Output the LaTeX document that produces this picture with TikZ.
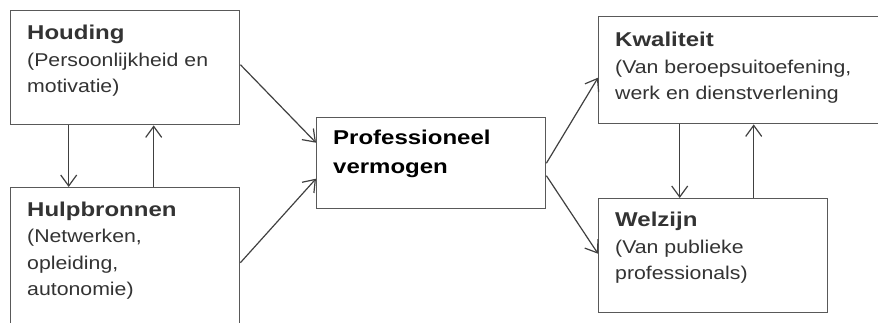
\documentclass[tikz,border=0pt]{standalone}
\usepackage{fontspec}
\setmainfont{Liberation Sans}
\newfontfamily\boxfont{Liberation Sans}[FakeStretch=1.15]
\newfontfamily\headfont{Liberation Sans}[FakeStretch=1.2]
\usepackage{tikz}
\usetikzlibrary{arrows.meta, positioning, calc}

\newcommand{\boxhead}[1]{{\headfont\bfseries\fontsize{20}{26.5}\selectfont #1}}

\begin{document}
\begin{tikzpicture}[
  x=1pt, y=-1pt,
  >={Straight Barb[length=11pt,width=16pt]},
  blok/.style={rectangle, draw=black!65, line width=1.4pt, fill=white,
        anchor=north west, inner sep=0pt},
  blocktxt/.style={anchor=north west, inner sep=0pt, align=left,
        text=black!80, font=\boxfont\fontsize{18.5}{26.5}\selectfont},
  headtxt/.style={blocktxt, text=black,
        font=\headfont\bfseries\fontsize{20}{29}\selectfont},
  flow/.style={->, black!75, line width=1.2pt},
]
\clip (0,0) rectangle (878,323);

% --- left column: houding and hulpbronnen ---
\node[blok, minimum width=229pt, minimum height=114pt] (houding) at (10,10) {};
\node[blok, minimum width=229pt, minimum height=150pt] (hulp) at (10,187) {};

% --- centre ---
\node[blok, minimum width=229pt, minimum height=91pt] (prof) at (316,117) {};

% --- right column: kwaliteit and welzijn ---
\node[blok, minimum width=292pt, minimum height=107pt] (kwal) at (598,16) {};
\node[blok, minimum width=229pt, minimum height=114pt] (welzijn) at (598,198) {};

% --- texts ---
\node[blocktxt, below right=15pt and 17pt of houding.north west] (houdingtxt)
  {\boxhead{Houding}\\ (Persoonlijkheid en\\ motivatie)};
\node[blocktxt, below right=14.5pt and 17pt of hulp.north west] (hulptxt)
  {\boxhead{Hulpbronnen}\\ (Netwerken,\\ opleiding,\\ autonomie)};
\node[headtxt, below right=13pt and 17pt of prof.north west] (proftxt)
  {Professioneel\\ vermogen};
\node[blocktxt, below right=16pt and 17pt of kwal.north west] (kwaltxt)
  {\boxhead{Kwaliteit}\\ (Van beroepsuitoefening,\\ werk en dienstverlening};
\node[blocktxt, below right=14pt and 17pt of welzijn.north west] (welzijntxt)
  {\boxhead{Welzijn}\\ (Van publieke\\ professionals)};

% --- arrows into professioneel vermogen ---
\draw[flow] ([yshift=3pt]houding.east) -- ([yshift=20.5pt]prof.west);
\draw[flow] (hulp.east) -- ([yshift=-15.5pt]prof.west);

% --- arrows out of professioneel vermogen ---
\draw[flow] (prof.east) -- ([yshift=-7.5pt]kwal.west);
\draw[flow] ([yshift=-12.5pt]prof.east) -- ([yshift=2pt]welzijn.west);

% --- two-way links between the boxes in each column ---
\draw[flow] ([xshift=-56.5pt]houding.south) -- ([xshift=-56.5pt]hulp.north);
\draw[flow] ([xshift=28.5pt]hulp.north) -- ([xshift=28.5pt]houding.south);
\draw[flow] ([xshift=-33.5pt]welzijn.north |- kwal.south) -- ([xshift=-33.5pt]welzijn.north);
\draw[flow] ([xshift=40.5pt]welzijn.north) -- ([xshift=40.5pt]welzijn.north |- kwal.south);

\end{tikzpicture}
\end{document}
